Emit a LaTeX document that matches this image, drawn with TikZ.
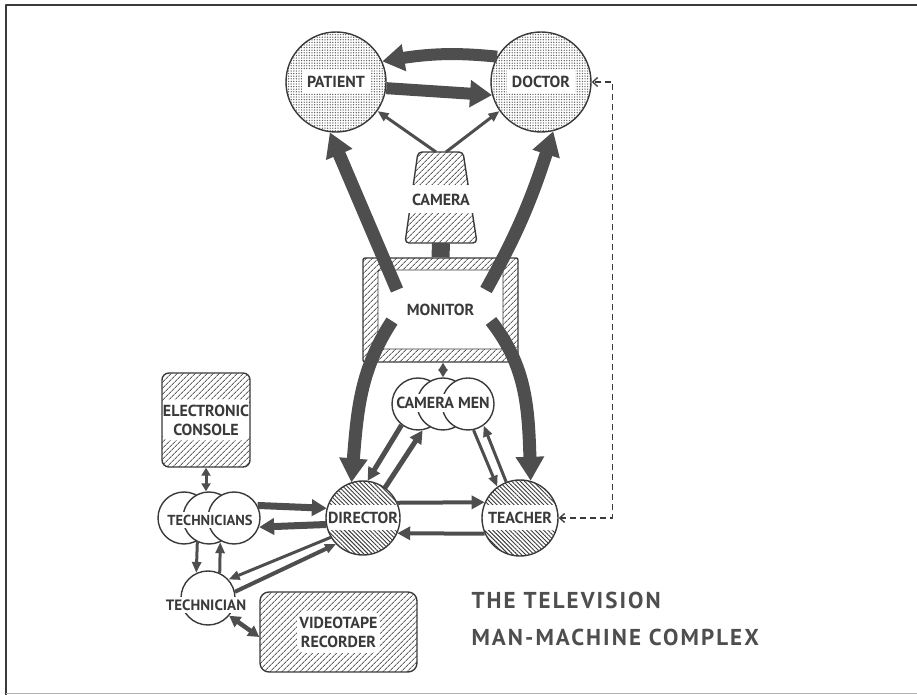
\documentclass[tikz,border=0pt]{standalone}
\usepackage{fontspec}
\setmainfont{PT Sans}
\usetikzlibrary{arrows.meta,patterns.meta,bending}
\definecolor{ink}{HTML}{3A3A3A}
\definecolor{ink2}{HTML}{4E4E4E}
\tikzset{
  person/.style={circle,draw=ink,line width=1.4pt,minimum size=#1,inner sep=0pt},
  box/.style={rectangle,draw=ink,line width=1.4pt,rounded corners=7pt,inner sep=0pt},
  lab/.style={fill=white,inner xsep=1.5pt,inner ysep=3pt},
  stip/.style={pattern={Dots[distance=2.6pt,radius=.72pt]},pattern color=ink!80},
  hatch/.style={pattern={Lines[angle=45,distance=4pt,line width=.9pt]},pattern color=ink!80},
  hatchb/.style={pattern={Lines[angle=-45,distance=3pt,line width=.9pt]},pattern color=ink},
  % white strip or window behind a label
  wband/.style={path picture={\fill[white]
    ([yshift=-#1]path picture bounding box.west) rectangle
    ([yshift=#1]path picture bounding box.east);}},
  wbox/.style 2 args={path picture={\fill[white]
    ([shift={(-#1,-#2)}]path picture bounding box.center) rectangle
    ([shift={(#1,#2)}]path picture bounding box.center);}},
  screen/.style={path picture={\filldraw[fill=white,draw=ink,line width=.9pt]
    ([shift={(15pt,13pt)}]path picture bounding box.south west) rectangle
    ([shift={(-15pt,-12pt)}]path picture bounding box.north east);}},
  bandarr/.style={draw=ink2,line width=13pt,-{Triangle[length=24pt,width=27pt]}},
  bandarrb/.style={draw=ink2,line width=12pt,-{Triangle[length=22pt,width=26pt]}},
  widearr/.style={draw=ink2,line width=7pt,-{Triangle[length=15pt,width=16pt]}},
  midarr/.style={draw=ink2,line width=5pt,-{Triangle[length=13pt,width=13pt]}},
  thinarr/.style={draw=ink2,line width=3pt,-{Triangle[length=11pt,width=9pt]}},
  dblarr/.style={draw=ink2,line width=3pt,{Triangle[length=8pt,width=9pt]}-{Triangle[length=8pt,width=9pt]}},
  ttlfont/.style={font=\bfseries\fontsize{23}{27}\selectfont\addfontfeature{LetterSpace=9}},
}
\begin{document}
\begin{tikzpicture}[x=1pt,y=1pt,line join=round,text=ink,
  font=\bfseries\fontsize{16}{19}\selectfont]
  \useasboundingbox (0,0) rectangle (917,695);
  \draw[ink,line width=1.4pt] (6,0) -- (6,690) -- (917,690);
  \draw[black!30,line width=.8pt] (6,2) -- (917,2);

  % groups of people (plain white circles)
  \node[person=52pt,fill=white] (cm1) at (418,291) {};
  \node[person=52pt,fill=white] (cm2) at (443,291) {};
  \node[person=52pt,fill=white] (cm3) at (468,291) {};
  \node[lab] (cml) at (443,292) {CAMERA MEN};
  \node[person=52pt,fill=white] (tcs1) at (184,177) {};
  \node[person=52pt,fill=white] (tcs2) at (209,177) {};
  \node[person=52pt,fill=white] (tcs3) at (234,177) {};
  \node[lab,font=\bfseries\fontsize{14.5}{17}\selectfont] (tcsl) at (210,175) {TECHNICIANS};
  \node[person=54pt,fill=white] (tcn) at (208,97) {};
  \node[lab,font=\bfseries\fontsize{15}{17}\selectfont] (tcnl) at (206,90) {TECHNICIAN};

  % people and machines
  \node[person=100pt,stip,wbox={34pt}{11.5pt}] (pat) at (336,613) {PATIENT};
  \node[person=100pt,stip,wbox={34pt}{11.5pt}] (doc) at (541,613) {DOCTOR};
  \draw[ink,line width=1.4pt,hatch,rounded corners=4pt]
    (418,543) -- (463,543) -- (477,452) -- (405,452) -- cycle;
  \fill[white] (400,482) rectangle (482,510);
  \node (cam) at (441,495) {CAMERA};
  \coordinate (camtop) at (441,543);
  \coordinate (cambot) at (441,452);
  \node[box,hatch,screen,rounded corners=2pt,minimum width=155pt,
    minimum height=104pt] (mon) at (440.5,385) {MONITOR};
  \draw[ink2,line width=18pt] (cambot) -- (mon.north);
  \node[person=74pt,hatchb,wband=12.5pt] (dir) at (363,177) {DIRECTOR};
  \node[person=76pt,hatchb,wband=12.5pt] (tea) at (520,177) {TEACHER};
  \node[box,hatch,wband=20.5pt,minimum width=88pt,minimum height=94pt,
    align=center] (con) at (206,275) {ELECTRONIC\\CONSOLE};
  \node[box,hatch,wbox={41.5pt}{21pt},rounded corners=9pt,minimum width=157pt,
    minimum height=80pt,align=center] (vtr) at (338.5,63) {VIDEOTAPE\\RECORDER};

  % the four bands leaving the monitor
  \coordinate (mUL) at ([shift={(-43.5pt,20pt)}]mon.center);
  \coordinate (mUR) at ([shift={(45.5pt,20pt)}]mon.center);
  \coordinate (mLL) at ([shift={(-48.5pt,-11pt)}]mon.center);
  \coordinate (mLR) at ([shift={(50.5pt,-11pt)}]mon.center);
  \draw[bandarr] (mUL) -- (pat.-97);
  \draw[bandarr] (mUR) to[bend right=6] (doc.-76);
  \draw[bandarr] (mLL) to[out=237,in=85] (dir.108);
  \draw[bandarr] (mLR) to[out=-52,in=92] (tea.74);

  \draw[bandarrb] (doc.150) to[bend right=8] (pat.24);
  \draw[bandarrb] (pat.-7) -- (doc.195);
  \draw[thinarr] ([xshift=-5pt]camtop) -- (pat.-35);
  \draw[thinarr] ([xshift=5pt]camtop) -- (doc.-145);

  \draw[dblarr] (cm2.north |- mon.south) -- (cm2.north);
  \draw[midarr] (cm1.232) -- (dir.83);
  \draw[midarr] (dir.54) -- (cm1.-80);
  \draw[thinarr] (cm3.-78) -- (tea.126);
  \draw[thinarr] (tea.111) -- (cm3.-54);
  \draw[midarr,line width=4pt] (dir.24) -- (tea.156);
  \draw[midarr,line width=4pt] (tea.-156) -- (dir.-24);

  \draw[widearr] (tcs3.28) -- (dir.165);
  \draw[widearr] (dir.190) -- (tcs3.-20);
  \draw[dblarr] (con.south) -- (con.south |- tcs2.north);
  \draw[thinarr] (tcs1.-60) -- (tcn.115);
  \draw[thinarr] (tcn.65) -- (tcs2.-65);
  \draw[thinarr] (dir.211) -- (tcn.42);
  \draw[thinarr,line width=4pt] (tcn.13) -- (dir.224);
  \draw[dblarr,line width=4.5pt,{Triangle[length=11pt,width=12pt]}-{Triangle[length=11pt,width=12pt]}]
    (tcn.-40) -- ([yshift=-5pt]vtr.west);

  \draw[ink,line width=1.3pt,dash pattern=on 6pt off 4pt,
    {Straight Barb[length=5pt,width=9pt]}-{Straight Barb[length=5pt,width=9pt]}]
    (tea.east) -- ([xshift=54pt]tea.east) |- (doc.east);

  \node[anchor=base west,ttlfont,text=ink!90] (ttl) at (468,86) {THE TELEVISION};
  \node[anchor=base west,ttlfont,text=ink!90] (ttl2) at (468,49) {MAN-MACHINE COMPLEX};
\end{tikzpicture}
\end{document}
